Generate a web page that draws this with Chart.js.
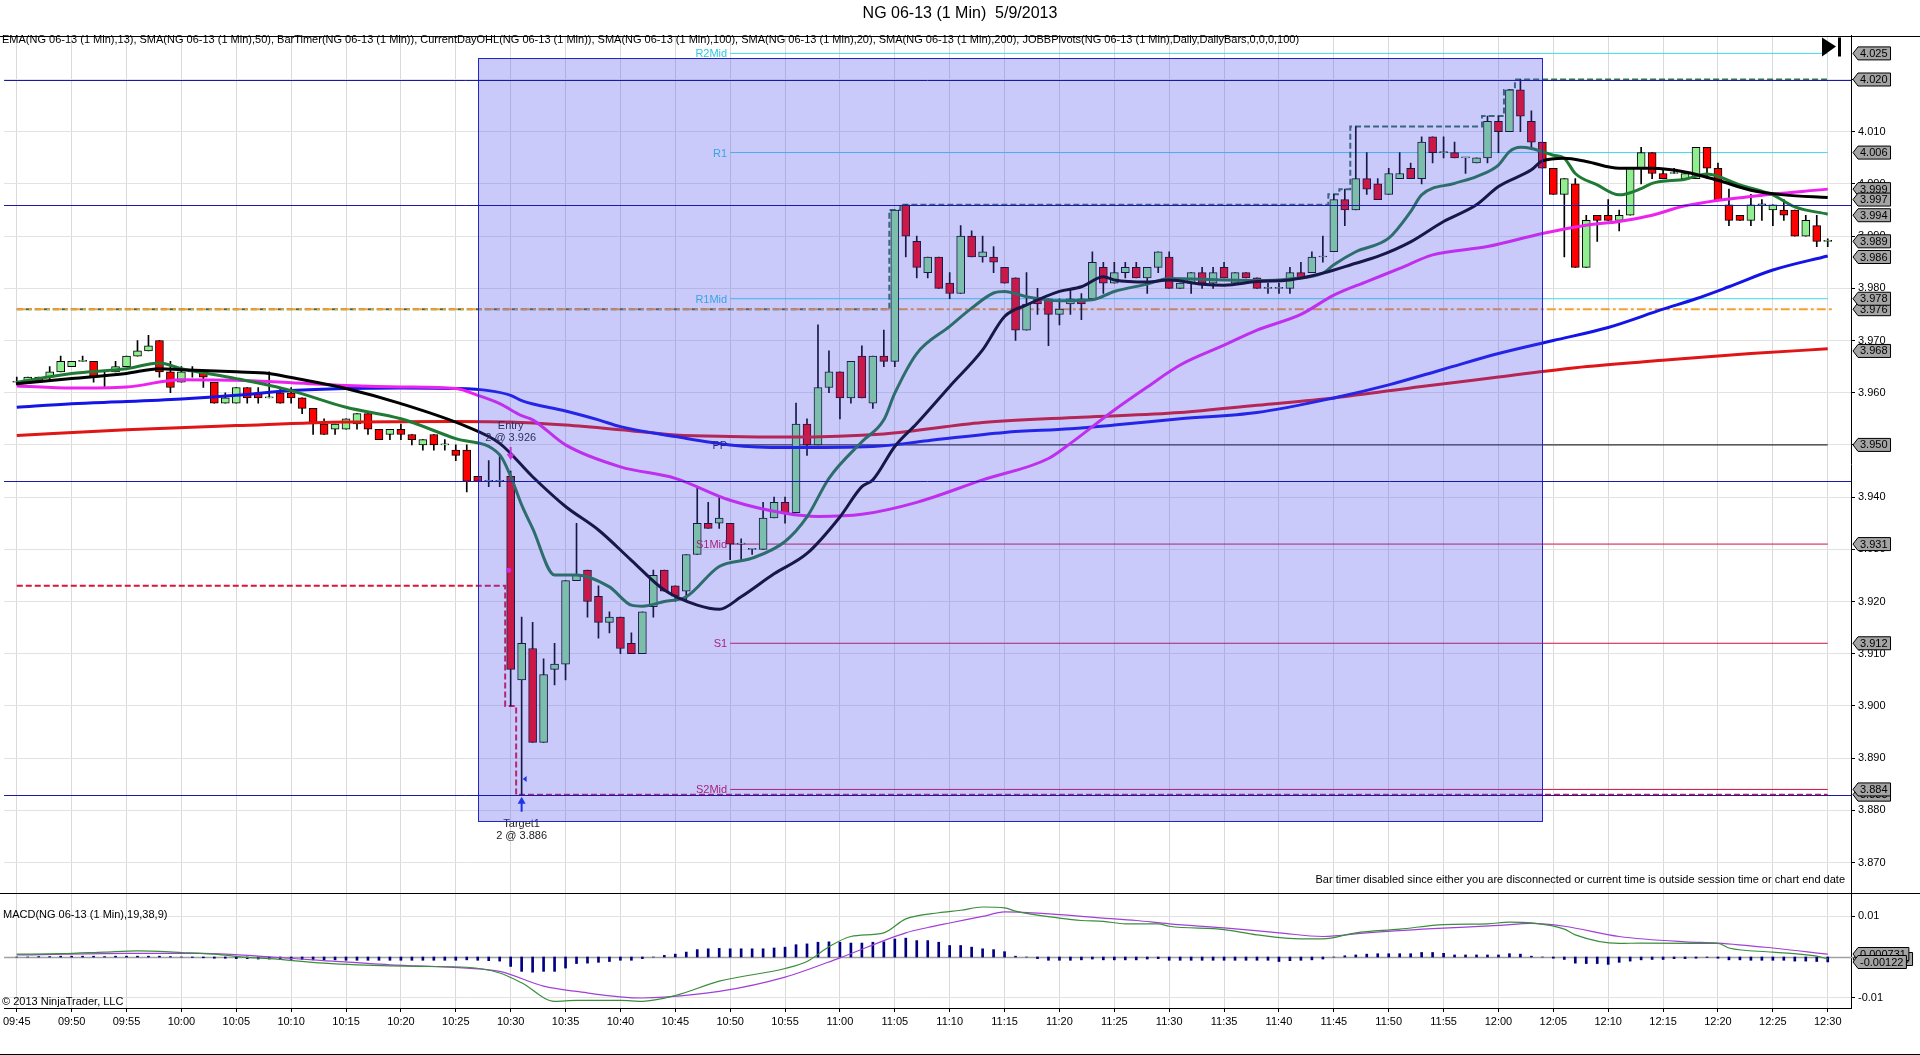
<!DOCTYPE html>
<html>
<head>
<meta charset="utf-8">
<script src="https://cdn.jsdelivr.net/npm/chart.js@4/dist/chart.umd.min.js"></script>
<style>
  html, body { margin: 0; padding: 0; background: #fff; overflow: hidden; }
  #wrap { width: 1920px; height: 1055px; }
</style>
</head>
<body>
<div id="wrap"><canvas id="c" width="1920" height="1055"></canvas></div>
<script>
// --- data, 09:45 .. 12:30 (bar index 0..165)
var timeLabels = ['09:45','09:50','09:55','10:00','10:05','10:10','10:15','10:20','10:25','10:30','10:35','10:40',
  '10:45','10:50','10:55','11:00','11:05','11:10','11:15','11:20','11:25','11:30','11:35','11:40','11:45','11:50',
  '11:55','12:00','12:05','12:10','12:15','12:20','12:25','12:30'];

var open = [
  3.962,3.962,3.963,3.963,3.964,3.965,3.966,3.966,3.964,3.964,
  3.965,3.967,3.968,3.970,3.964,3.962,3.964,3.964,3.962,3.958,
  3.958,3.961,3.960,3.959,3.960,3.960,3.959,3.957,3.954,3.953,
  3.953,3.954,3.956,3.953,3.952,3.953,3.952,3.950,3.952,3.950,
  3.949,3.949,3.944,3.943,3.943,3.944,3.905,3.911,3.893,3.907,
  3.908,3.924,3.926,3.921,3.916,3.917,3.912,3.910,3.919,3.926,
  3.923,3.922,3.929,3.935,3.935,3.935,3.931,3.930,3.930,3.936,
  3.939,3.937,3.954,3.950,3.961,3.964,3.959,3.967,3.958,3.967,
  3.966,3.996,3.989,3.983,3.986,3.981,3.979,3.990,3.986,3.986,
  3.984,3.982,3.972,3.978,3.978,3.975,3.977,3.978,3.978,3.984,
  3.981,3.983,3.984,3.982,3.984,3.986,3.980,3.981,3.983,3.981,
  3.984,3.981,3.983,3.982,3.980,3.980,3.980,3.983,3.983,3.986,
  3.987,3.997,3.995,4.001,4.000,3.998,4.001,4.003,4.001,4.009,
  4.006,4.006,4.005,4.004,4.005,4.012,4.010,4.018,4.012,4.008,
  4.003,3.998,4.000,3.984,3.994,3.994,3.993,3.994,4.003,4.006,
  4.002,4.002,4.001,4.001,4.007,4.003,3.996,3.994,3.993,3.996,
  3.995,3.995,3.995,3.990,3.992,3.989];
var high = [
  3.963,3.963,3.963,3.965,3.967,3.966,3.967,3.966,3.964,3.966,
  3.967,3.970,3.971,3.970,3.966,3.965,3.965,3.964,3.962,3.960,
  3.961,3.961,3.961,3.964,3.961,3.961,3.959,3.957,3.955,3.954,
  3.955,3.956,3.956,3.953,3.953,3.954,3.952,3.951,3.952,3.951,
  3.950,3.950,3.944,3.947,3.948,3.945,3.917,3.916,3.909,3.912,
  3.924,3.935,3.926,3.923,3.918,3.917,3.914,3.918,3.926,3.926,
  3.923,3.929,3.942,3.939,3.940,3.935,3.932,3.930,3.939,3.940,
  3.940,3.958,3.955,3.973,3.968,3.964,3.966,3.969,3.967,3.972,
  3.995,3.996,3.990,3.986,3.986,3.983,3.992,3.991,3.990,3.988,
  3.984,3.982,3.983,3.980,3.978,3.978,3.980,3.979,3.987,3.985,
  3.985,3.985,3.985,3.984,3.987,3.987,3.981,3.983,3.984,3.984,
  3.985,3.983,3.983,3.982,3.981,3.981,3.984,3.985,3.987,3.990,
  3.998,3.999,4.011,4.006,4.001,4.003,4.006,4.004,4.009,4.009,
  4.009,4.008,4.005,4.005,4.013,4.013,4.018,4.020,4.014,4.008,
  4.003,4.001,4.001,3.994,3.994,3.997,3.995,4.003,4.007,4.006,
  4.003,4.003,4.002,4.007,4.007,4.004,3.999,3.994,3.998,3.997,
  3.996,3.997,3.995,3.994,3.994,3.9895];
var low = [
  3.9615,3.962,3.962,3.9625,3.964,3.965,3.966,3.962,3.961,3.964,
  3.965,3.967,3.968,3.963,3.960,3.962,3.963,3.961,3.958,3.958,
  3.958,3.958,3.958,3.959,3.958,3.958,3.956,3.952,3.952,3.952,
  3.953,3.953,3.952,3.951,3.951,3.951,3.950,3.949,3.949,3.949,
  3.947,3.941,3.943,3.942,3.942,3.900,3.883,3.893,3.893,3.904,
  3.905,3.924,3.917,3.913,3.914,3.910,3.910,3.910,3.917,3.922,
  3.920,3.920,3.929,3.934,3.934,3.928,3.928,3.929,3.930,3.936,
  3.935,3.937,3.948,3.950,3.960,3.955,3.958,3.959,3.957,3.965,
  3.965,3.986,3.982,3.982,3.980,3.978,3.979,3.986,3.985,3.983,
  3.981,3.970,3.972,3.975,3.969,3.973,3.975,3.974,3.978,3.979,
  3.981,3.982,3.982,3.979,3.983,3.980,3.980,3.979,3.980,3.980,
  3.982,3.981,3.982,3.980,3.979,3.979,3.979,3.982,3.983,3.985,
  3.987,3.992,3.995,3.998,3.997,3.998,4.001,4.001,4.000,4.004,
  4.005,4.005,4.002,4.004,4.004,4.006,4.010,4.010,4.007,4.003,
  3.998,3.986,3.984,3.984,3.989,3.993,3.991,3.994,4.000,4.001,
  4.001,4.002,4.001,4.001,4.001,3.997,3.992,3.993,3.992,3.993,
  3.992,3.993,3.990,3.990,3.988,3.988];
var close = [
  3.962,3.963,3.962,3.964,3.966,3.966,3.966,3.963,3.964,3.965,
  3.967,3.968,3.969,3.964,3.961,3.964,3.964,3.963,3.958,3.959,
  3.961,3.959,3.959,3.959,3.958,3.959,3.957,3.954,3.952,3.954,
  3.955,3.956,3.953,3.951,3.953,3.952,3.951,3.951,3.950,3.950,
  3.948,3.943,3.943,3.943,3.943,3.907,3.912,3.893,3.906,3.908,
  3.924,3.925,3.920,3.916,3.917,3.911,3.910,3.918,3.925,3.922,
  3.921,3.929,3.935,3.934,3.936,3.931,3.931,3.930,3.936,3.939,
  3.937,3.954,3.950,3.961,3.964,3.959,3.966,3.959,3.967,3.966,
  3.995,3.990,3.984,3.986,3.980,3.979,3.990,3.986,3.987,3.985,
  3.981,3.972,3.977,3.977,3.975,3.976,3.978,3.977,3.985,3.981,
  3.983,3.984,3.982,3.984,3.987,3.980,3.981,3.983,3.981,3.983,
  3.982,3.983,3.982,3.980,3.980,3.980,3.983,3.982,3.986,3.986,
  3.997,3.995,4.001,3.999,3.997,4.002,4.002,4.001,4.008,4.006,
  4.006,4.005,4.005,4.005,4.012,4.010,4.018,4.013,4.008,4.003,
  3.998,4.001,3.984,3.993,3.993,3.993,3.994,4.003,4.006,4.002,
  4.001,4.002,4.002,4.007,4.003,3.997,3.993,3.993,3.996,3.996,
  3.996,3.994,3.990,3.993,3.989,3.989];

// moving averages, read as [bar, value]
var ema13 = [[0,3.962],[5,3.9637],[10,3.9646],[13,3.9657],[15,3.9646],[20,3.9627],[25,3.9604],[30,3.9572],[35,3.955],
  [40,3.9512],[44,3.9481],[45,3.944],[46,3.9385],[47,3.934],[49,3.9251],[51,3.9251],[54,3.9228],[56,3.9193],[57,3.9191],
  [59,3.92],[61,3.9209],[64,3.9267],[67,3.9283],[70,3.9315],[72,3.9362],[74,3.9436],[77,3.9506],[79,3.9548],[80,3.9599],
  [82,3.9675],[85,3.9727],[87,3.9762],[89,3.9791],[90,3.9794],[92,3.9784],[95,3.9776],[98,3.9778],[100,3.9794],[103,3.9808],
  [105,3.9819],[110,3.9816],[113,3.9815],[116,3.9818],[119,3.9829],[120,3.9845],[122,3.987],[125,3.9896],[127,3.9947],
  [128,3.9979],[131,4.0001],[133,4.0014],[135,4.0036],[136,4.0062],[137,4.007],[138,4.0068],[140,4.0055],[141,4.0049],
  [142,4.002],[144,3.9998],[146,3.9979],[148,3.9991],[149,4.0001],[152,4.0009],[154,4.0019],[157,3.9998],[160,3.9979],
  [162,3.9956],[165,3.9942]];
var sma20 = [[0,3.9617],[5,3.9627],[10,3.9637],[13,3.9646],[15,3.9644],[20,3.964],[23,3.9637],[25,3.9629],[30,3.9608],
  [35,3.9579],[41,3.9535],[44,3.9503],[47,3.9439],[50,3.9382],[53,3.9337],[56,3.9279],[59,3.9222],[62,3.9193],[64,3.9185],
  [66,3.9209],[69,3.9253],[72,3.9292],[75,3.9362],[77,3.942],[78,3.9433],[80,3.9497],[82,3.9541],[85,3.9612],[88,3.9682],
  [90,3.9746],[92,3.9768],[95,3.9794],[97,3.9803],[99,3.9822],[100,3.9816],[103,3.9812],[105,3.9816],[108,3.9808],
  [110,3.9806],[113,3.9813],[116,3.9816],[119,3.9829],[122,3.9848],[124,3.9861],[127,3.9889],[130,3.9928],[133,3.996],
  [135,3.9995],[138,4.0027],[139,4.0044],[141,4.0049],[143,4.0043],[146,4.003],[149,4.003],[152,4.0023],[155,4.0007],
  [158,3.9988],[161,3.9979],[165,3.9974]];
var sma50 = [[0,3.9613],[5,3.9609],[10,3.9611],[15,3.9625],[20,3.9624],[25,3.9619],[30,3.9614],[35,3.9611],[40,3.9608],
  [42,3.9595],[44,3.9579],[46,3.9556],[47,3.9548],[50,3.95],[55,3.9458],[60,3.9436],[65,3.9394],[70,3.9369],[73,3.9363],
  [77,3.9367],[82,3.939],[88,3.9433],[94,3.9474],[96,3.9503],[100,3.9567],[103,3.9611],[106,3.9653],[110,3.9691],
  [113,3.972],[117,3.975],[120,3.9787],[123,3.9813],[126,3.9838],[129,3.9864],[134,3.988],[139,3.9905],[143,3.9921],
  [146,3.9928],[149,3.994],[152,3.9958],[158,3.9976],[165,3.999]];
var sma100 = [[0,3.9572],[5,3.9579],[10,3.9583],[15,3.9588],[20,3.9595],[25,3.9604],[30,3.9608],[35,3.9609],[40,3.9608],
  [43,3.9604],[45,3.9595],[46,3.9585],[50,3.9565],[53,3.9548],[55,3.9535],[60,3.9516],[65,3.95],[70,3.9495],[78,3.9497],
  [83,3.9508],[90,3.9524],[96,3.9531],[100,3.9538],[106,3.955],[113,3.9562],[120,3.959],[125,3.9615],[130,3.9645],
  [135,3.9675],[140,3.97],[145,3.9725],[150,3.976],[153,3.978],[156,3.9803],[160,3.9835],[165,3.9862]];
var sma200 = [[0,3.9518],[10,3.9529],[20,3.9537],[30,3.9544],[40,3.9545],[45,3.9544],[50,3.9538],[55,3.9529],[60,3.9519],
  [65,3.9516],[70,3.9515],[79,3.9521],[88,3.9543],[97,3.9553],[106,3.9562],[113,3.9576],[120,3.959],[128,3.9612],
  [135,3.963],[142,3.9648],[150,3.9662],[158,3.9675],[165,3.9684]];

// MACD(19,38,9)
var macdLine = [[0,0.0007],[4,0.0008],[8,0.0012],[11,0.0015],[15,0.0011],[18,0.0007],[21,-0.0001],[23,-0.0004],[28,-0.0015],
  [31,-0.0019],[37,-0.0023],[41,-0.0025],[44,-0.0039],[46,-0.0063],[49,-0.0108],[51,-0.0106],[55,-0.0106],[57,-0.0108],
  [60,-0.0094],[64,-0.0059],[70,-0.0028],[72,-0.0011],[74,0.0025],[76,0.005],[79,0.0059],[81,0.0093],[84,0.0108],
  [86,0.0114],[88,0.0122],[90,0.012],[91,0.0112],[95,0.0095],[97,0.0089],[99,0.0087],[101,0.0081],[104,0.0081],
  [105,0.0075],[110,0.0067],[113,0.0054],[117,0.0044],[119,0.0044],[122,0.0059],[126,0.0068],[130,0.0079],[134,0.0081],
  [136,0.0085],[138,0.0083],[141,0.0068],[142,0.0054],[146,0.0033],[148,0.0034],[155,0.0033],[156,0.0022],[160,0.0012],
  [164,0.0002],[165,-0.0005]];
var macdAvg = [[0,0.0005],[10,0.0009],[17,0.0009],[22,0.0002],[28,-0.0009],[34,-0.0019],[41,-0.0027],[44,-0.0035],
  [48,-0.0071],[51,-0.0084],[57,-0.01],[59,-0.0098],[64,-0.0084],[70,-0.0049],[75,-0.0002],[81,0.0059],[83,0.0072],
  [85,0.0083],[88,0.0099],[90,0.011],[93,0.0107],[99,0.0095],[102,0.0089],[105,0.0081],[110,0.0071],[115,0.0059],
  [119,0.005],[123,0.0059],[129,0.0069],[135,0.0077],[138,0.0082],[141,0.0075],[146,0.005],[152,0.0037],[155,0.0034],
  [160,0.0022],[165,0.0007]];
var macdDiff = [
  0,0,0.0001,0.0001,0.0002,0.0002,0.0002,0.0002,0.0001,0.0002,
  0.0002,0.0002,0.0002,0.0002,0.0001,0,-0.0001,-0.0002,-0.0003,-0.0003,
  -0.0004,-0.0004,-0.0005,-0.0005,-0.0006,-0.0006,-0.0006,-0.0007,-0.0007,-0.0007,
  -0.0008,-0.0008,-0.0008,-0.0008,-0.0008,-0.0008,-0.0008,-0.0008,-0.0008,-0.0008,
  -0.0008,-0.0007,-0.0008,-0.0009,-0.001,-0.0023,-0.0035,-0.0037,-0.0035,-0.0035,
  -0.0027,-0.0016,-0.0015,-0.0013,-0.0011,-0.0008,-0.0008,-0.0004,0,0.0004,
  0.0007,0.0012,0.0018,0.002,0.0021,0.002,0.002,0.002,0.002,0.0022,
  0.0024,0.003,0.0032,0.0036,0.0037,0.0036,0.0034,0.0034,0.0036,0.0037,
  0.0044,0.0046,0.004,0.004,0.0036,0.0028,0.0028,0.0024,0.002,0.0018,
  0.0013,0.0002,0,-0.0004,-0.0008,-0.0008,-0.0008,-0.0007,-0.0005,-0.0007,
  -0.0007,-0.0007,-0.0007,-0.0005,-0.0004,-0.0008,-0.0008,-0.0008,-0.0008,-0.0008,
  -0.0008,-0.0008,-0.0008,-0.0008,-0.0008,-0.0011,-0.0009,-0.0008,-0.0007,-0.0005,
  0,0.0003,0.0005,0.0007,0.0008,0.0008,0.0008,0.0008,0.0011,0.0011,
  0.0009,0.0005,0.0005,0.0005,0.0005,0.0005,0.0008,0.0007,0.0002,0,
  -0.0003,-0.0006,-0.0015,-0.0016,-0.0016,-0.0018,-0.0013,-0.001,-0.0007,-0.0006,
  -0.0006,-0.0004,-0.0004,-0.0003,-0.0001,-0.0003,-0.0007,-0.0007,-0.0008,-0.0008,
  -0.0008,-0.0008,-0.001,-0.001,-0.0011,-0.0012];

// CurrentDayOHL steps [fromBar, value]
var dayOpen = 3.976;
var dayHighSteps = [[0,3.976],[80,3.995],[81,3.996],[120,3.998],[121,3.999],[122,4.011],[134,4.013],[136,4.018],[137,4.020]];
var dayLowSteps = [[0,3.923],[45,3.900],[46,3.883]];

// JOBBPivots (last 100 bars)
var pivotNames = ['R2Mid','R1','R1Mid','PP','S1Mid','S1','S2Mid'];
var pivotLevels = [4.025, 4.006, 3.978, 3.950, 3.931, 3.912, 3.884];
var pivotFrom = 65;

// hand drawn horizontal lines and the shaded box
var drawnLines = [4.020, 3.996, 3.943, 3.883];
var boxBars = [42.03, 139.0];
var boxPrices = [3.878, 4.0241];

// executions
var entry = { bar: 45, price: 3.926, qty: 2 };
var target = { bar: 46, price: 3.886, qty: 2 };

// axis
var priceTicks = [3.870,3.880,3.890,3.900,3.910,3.920,3.930,3.940,3.950,3.960,3.970,3.980,3.990,4.000,4.010,4.020];
var macdTicks = [0.01, -0.01];
var priceTags = [3.883, 3.884, 3.912, 3.931, 3.950, 3.968, 3.976, 3.978, 3.986, 3.989, 3.994, 3.999, 3.997, 4.006, 4.020, 4.025];
var macdTags = [-0.000489, 0.000731, -0.00122];
var macdTagText = ['-0.000489', '0.000731', '-0.00122'];

var FONT = '"Liberation Sans", Arial, sans-serif';
Chart.defaults.font.family = FONT;
Chart.defaults.font.size = 11;
Chart.defaults.color = '#000';

var UP = '#90EE90', DOWN = '#FF0000';

function pts(arr) { return arr.map(function (p) { return { x: p[0], y: p[1] }; }); }
function stepsToBars(steps) {
  var out = [], k = 0;
  for (var i = 0; i < open.length; i++) {
    while (k + 1 < steps.length && steps[k + 1][0] <= i) k++;
    out.push({ x: i, y: steps[k][1] });
  }
  return out;
}

var bodies = [], wicks = [], bodyColors = [], hist = [];
for (var i = 0; i < open.length; i++) {
  bodies.push({ x: i, y: [open[i], close[i]] });
  wicks.push({ x: i, y: [low[i], high[i]] });
  bodyColors.push(close[i] >= open[i] ? UP : DOWN);
  hist.push({ x: i, y: macdDiff[i] });
}

function maSet(label, arr, color, order) {
  return { type: 'line', label: label, data: pts(arr), yAxisID: 'y', borderColor: color, borderWidth: 3,
    pointRadius: 0, cubicInterpolationMode: 'monotone', order: order };
}

var datasets = [
  maSet('SMA200', sma200, '#E01515', 5),
  maSet('SMA100', sma100, '#1414E6', 4),
  maSet('SMA50', sma50, '#EE22EE', 3),
  maSet('EMA13', ema13, '#1F7A35', 2),
  maSet('SMA20', sma20, '#000000', 1),
  { type: 'bar', label: 'body', data: bodies, yAxisID: 'y', backgroundColor: bodyColors, borderColor: '#000',
    borderWidth: 1, borderSkipped: false, barThickness: 8, minBarLength: 1, grouped: false, order: 10 },
  { type: 'bar', label: 'wick', data: wicks, yAxisID: 'y', backgroundColor: '#000', borderWidth: 0,
    barThickness: 1, grouped: false, order: 11 },
  { type: 'line', label: 'open', data: [{ x: 0, y: dayOpen }, { x: 165.6, y: dayOpen }], yAxisID: 'y',
    borderColor: '#F5A030', borderWidth: 2, borderDash: [9, 3, 3, 3], pointRadius: 0, order: 15 },
  { type: 'line', label: 'high', data: stepsToBars(dayHighSteps), yAxisID: 'y', stepped: 'middle',
    borderColor: '#2F6F50', borderWidth: 2, borderDash: [6, 3], pointRadius: 0, order: 16 },
  { type: 'line', label: 'low', data: stepsToBars(dayLowSteps), yAxisID: 'y', stepped: 'middle',
    borderColor: '#DC143C', borderWidth: 2, borderDash: [6, 3], pointRadius: 0, order: 16 },
  { type: 'line', label: 'MACD', data: pts(macdLine), yAxisID: 'y2', borderColor: '#3A8E3A', borderWidth: 1.2,
    pointRadius: 0, cubicInterpolationMode: 'monotone', order: 1 },
  { type: 'line', label: 'Avg', data: pts(macdAvg), yAxisID: 'y2', borderColor: '#A040D8', borderWidth: 1.2,
    pointRadius: 0, cubicInterpolationMode: 'monotone', order: 2 },
  { type: 'bar', label: 'Diff', data: hist, yAxisID: 'y2', backgroundColor: '#000080', borderWidth: 0,
    barThickness: 2, grouped: false, order: 3 }
];
pivotLevels.forEach(function (v, k) {
  var c = pivotNames[k].charAt(0) === 'R' ? '#3FD8EA' : (pivotNames[k] === 'PP' ? '#000000' : '#D0103C');
  datasets.push({ type: 'line', label: pivotNames[k], data: [{ x: pivotFrom, y: v }, { x: 165, y: v }], yAxisID: 'y',
    borderColor: c, borderWidth: 1, pointRadius: 0, order: 30 });
});

function tag(ctx, left, py, text) {
  ctx.font = '11px ' + FONT;
  var w = ctx.measureText(text).width + 5, h = 13, x0 = left + 2, x1 = left + 7;
  ctx.beginPath();
  ctx.moveTo(x0, py); ctx.lineTo(x1, py - h / 2); ctx.lineTo(x1 + w, py - h / 2);
  ctx.lineTo(x1 + w, py + h / 2); ctx.lineTo(x1, py + h / 2); ctx.closePath();
  ctx.fillStyle = '#A4A4A4'; ctx.fill();
  ctx.strokeStyle = '#000'; ctx.lineWidth = 1; ctx.stroke();
  ctx.fillStyle = '#000'; ctx.textAlign = 'left'; ctx.textBaseline = 'middle';
  ctx.fillText(text, x1 + 2, py + 0.5);
}

var overlay = {
  id: 'overlay',
  beforeDatasetsDraw: function (chart) {
    var ctx = chart.ctx, a = chart.chartArea, y2 = chart.scales.y2;
    var zy = Math.round(y2.getPixelForValue(0)) + 0.5;
    ctx.save();
    ctx.strokeStyle = '#A0A0A0'; ctx.lineWidth = 1.5;
    ctx.beginPath(); ctx.moveTo(a.left, zy); ctx.lineTo(a.right + 4, zy); ctx.stroke();
    ctx.restore();
  },
  afterDatasetsDraw: function (chart) {
    var ctx = chart.ctx, a = chart.chartArea, x = chart.scales.x, y = chart.scales.y;
    ctx.save();
    ctx.beginPath(); ctx.rect(a.left, y.top, a.width, y.bottom - y.top); ctx.clip();

    // pivot names
    ctx.font = '11px ' + FONT; ctx.textAlign = 'right'; ctx.textBaseline = 'middle';
    pivotLevels.forEach(function (v, k) {
      ctx.fillStyle = pivotNames[k].charAt(0) === 'R' ? '#30C8E0' : (pivotNames[k] === 'PP' ? '#101060' : '#C8104A');
      ctx.fillText(pivotNames[k], x.getPixelForValue(pivotFrom) - 3, y.getPixelForValue(v) + 1);
    });

    // entry marker
    var ex = x.getPixelForValue(entry.bar), tip = y.getPixelForValue(high[entry.bar]) - 11;
    ctx.fillStyle = '#FF22DD'; ctx.strokeStyle = '#FF22DD'; ctx.lineWidth = 2;
    ctx.beginPath(); ctx.moveTo(ex, tip - 13); ctx.lineTo(ex, tip - 4); ctx.stroke();
    ctx.beginPath(); ctx.moveTo(ex - 4, tip - 6); ctx.lineTo(ex + 4, tip - 6); ctx.lineTo(ex, tip); ctx.closePath(); ctx.fill();
    ctx.beginPath(); ctx.arc(ex - 2, y.getPixelForValue(entry.price), 2.5, 0, Math.PI * 2); ctx.fill();
    ctx.fillStyle = '#222'; ctx.textAlign = 'center';
    ctx.fillText('Entry', ex, tip - 34);
    ctx.fillText(entry.qty + ' @ ' + entry.price.toFixed(3), ex, tip - 22);

    // target marker
    var tx = x.getPixelForValue(target.bar), bot = y.getPixelForValue(low[target.bar]) + 2;
    ctx.fillStyle = '#0A28F0'; ctx.strokeStyle = '#0A28F0'; ctx.lineWidth = 2;
    ctx.beginPath(); ctx.moveTo(tx, bot + 5); ctx.lineTo(tx, bot + 15); ctx.stroke();
    ctx.beginPath(); ctx.moveTo(tx - 4, bot + 7); ctx.lineTo(tx + 4, bot + 7); ctx.lineTo(tx, bot); ctx.closePath(); ctx.fill();
    var fy = y.getPixelForValue(target.price);
    ctx.beginPath(); ctx.moveTo(tx + 1, fy); ctx.lineTo(tx + 5, fy - 3); ctx.lineTo(tx + 5, fy + 3); ctx.closePath(); ctx.fill();
    ctx.restore();

    ctx.save();
    ctx.font = '11px ' + FONT; ctx.textAlign = 'center'; ctx.textBaseline = 'middle'; ctx.fillStyle = '#222';
    ctx.fillText('Target1', tx, bot + 27);
    ctx.fillText(target.qty + ' @ ' + target.price.toFixed(3), tx, bot + 39);

    // shaded box drawn over the bars
    var rx0 = Math.round(x.getPixelForValue(boxBars[0])) + 0.5, rx1 = Math.round(x.getPixelForValue(boxBars[1])) + 0.5;
    var ry0 = Math.round(y.getPixelForValue(boxPrices[1])) + 0.5, ry1 = Math.round(y.getPixelForValue(boxPrices[0])) + 0.5;
    ctx.fillStyle = 'rgba(80,80,240,0.30)';
    ctx.fillRect(rx0, ry0, rx1 - rx0, ry1 - ry0);
    ctx.strokeStyle = '#2424C8'; ctx.lineWidth = 1;
    ctx.strokeRect(rx0, ry0, rx1 - rx0, ry1 - ry0);

    // drawn horizontal lines
    ctx.strokeStyle = '#1A1AA8';
    drawnLines.forEach(function (v) {
      var py = Math.round(y.getPixelForValue(v)) + 0.5;
      ctx.beginPath(); ctx.moveTo(a.left, py); ctx.lineTo(a.right, py); ctx.stroke();
    });
    ctx.restore();
  },
  afterDraw: function (chart) {
    var ctx = chart.ctx, a = chart.chartArea, y = chart.scales.y, y2 = chart.scales.y2;
    ctx.save();
    ctx.strokeStyle = '#000'; ctx.lineWidth = 1;
    [Math.round(a.top) + 0.5, Math.round(y.bottom) + 0.5].forEach(function (py) {
      ctx.beginPath(); ctx.moveTo(0, py); ctx.lineTo(chart.width, py); ctx.stroke();
    });
    ctx.beginPath(); ctx.moveTo(0, chart.height - 0.5); ctx.lineTo(chart.width, chart.height - 0.5); ctx.stroke();

    ctx.font = '11px ' + FONT; ctx.fillStyle = '#000'; ctx.textBaseline = 'middle'; ctx.textAlign = 'left';
    ctx.fillText('EMA(NG 06-13 (1 Min),13), SMA(NG 06-13 (1 Min),50), BarTimer(NG 06-13 (1 Min)), CurrentDayOHL(NG 06-13 (1 Min)), SMA(NG 06-13 (1 Min),100), SMA(NG 06-13 (1 Min),20), SMA(NG 06-13 (1 Min),200), JOBBPivots(NG 06-13 (1 Min),Daily,DailyBars,0,0,0,100)', 2, a.top + 4);
    ctx.fillText('MACD(NG 06-13 (1 Min),19,38,9)', 3, y2.top + 22);
    ctx.fillText('\u00A9 2013 NinjaTrader, LLC', 2, y2.bottom - 6);
    ctx.textAlign = 'right';
    ctx.fillText('Bar timer disabled since either you are disconnected or current time is outside session time or chart end date', a.right - 6, y.bottom - 13);

    // go-to-end button
    ctx.fillStyle = '#000';
    ctx.beginPath(); ctx.moveTo(a.right - 29, a.top + 2); ctx.lineTo(a.right - 15, a.top + 11); ctx.lineTo(a.right - 29, a.top + 21); ctx.closePath(); ctx.fill();
    ctx.fillRect(a.right - 13, a.top + 2, 3, 19);

    // value tags on the price axis
    priceTags.forEach(function (v) { tag(ctx, y.left, y.getPixelForValue(v), v.toFixed(3)); });
    macdTags.forEach(function (v, k) { tag(ctx, y2.left, y2.getPixelForValue(v), macdTagText[k]); });
    ctx.restore();
  }
};

new Chart(document.getElementById('c'), {
  type: 'line',
  data: { datasets: datasets },
  plugins: [overlay],
  options: {
    responsive: false,
    animation: false,
    events: [],
    layout: { padding: 0, autoPadding: false },
    plugins: {
      legend: { display: false },
      tooltip: { enabled: false },
      title: { display: true, text: 'NG 06-13 (1 Min)  5/9/2013', color: '#000',
        font: { family: FONT, size: 16, weight: 'normal' }, padding: { top: 4, bottom: 12.3 } }
    },
    scales: {
      x: {
        type: 'linear', position: 'bottom', min: -1.155, max: 167.12, bounds: 'data', offset: false,
        afterBuildTicks: function (s) { s.ticks = timeLabels.map(function (t, k) { return { value: k * 5 }; }); },
        afterFit: function (s) { s.height = 47; },
        ticks: { autoSkip: false, maxRotation: 0, minRotation: 0, padding: 3, font: { size: 11 },
          callback: function (v) { var k = Math.round(v / 5); return timeLabels[k] || ''; } },
        grid: { color: '#DADADA', offset: false, tickLength: 4, tickColor: '#000' },
        border: { color: '#000' }
      },
      y: {
        type: 'linear', position: 'right', stack: 'panes', stackWeight: 857.5,
        min: 3.86416, max: 4.02843, beginAtZero: false, bounds: 'data',
        afterBuildTicks: function (s) { s.ticks = priceTicks.map(function (v) { return { value: v }; }); },
        afterFit: function (s) { s.width = 69; },
        ticks: { padding: 3, font: { size: 11 }, callback: function (v) { return v.toFixed(3); } },
        grid: { color: '#E2E2E2', tickLength: 4, tickColor: '#000' },
        border: { color: '#000' }
      },
      y2: {
        type: 'linear', position: 'right', stack: 'panes', stackWeight: 115,
        min: -0.01244, max: 0.01561, beginAtZero: false, bounds: 'data',
        afterBuildTicks: function (s) { s.ticks = macdTicks.map(function (v) { return { value: v }; }); },
        afterFit: function (s) { s.width = 69; },
        ticks: { padding: 3, font: { size: 11 }, callback: function (v) { return String(v); } },
        grid: { color: '#E2E2E2', tickLength: 4, tickColor: '#000' },
        border: { color: '#000' }
      }
    }
  }
});
</script>
</body>
</html>
